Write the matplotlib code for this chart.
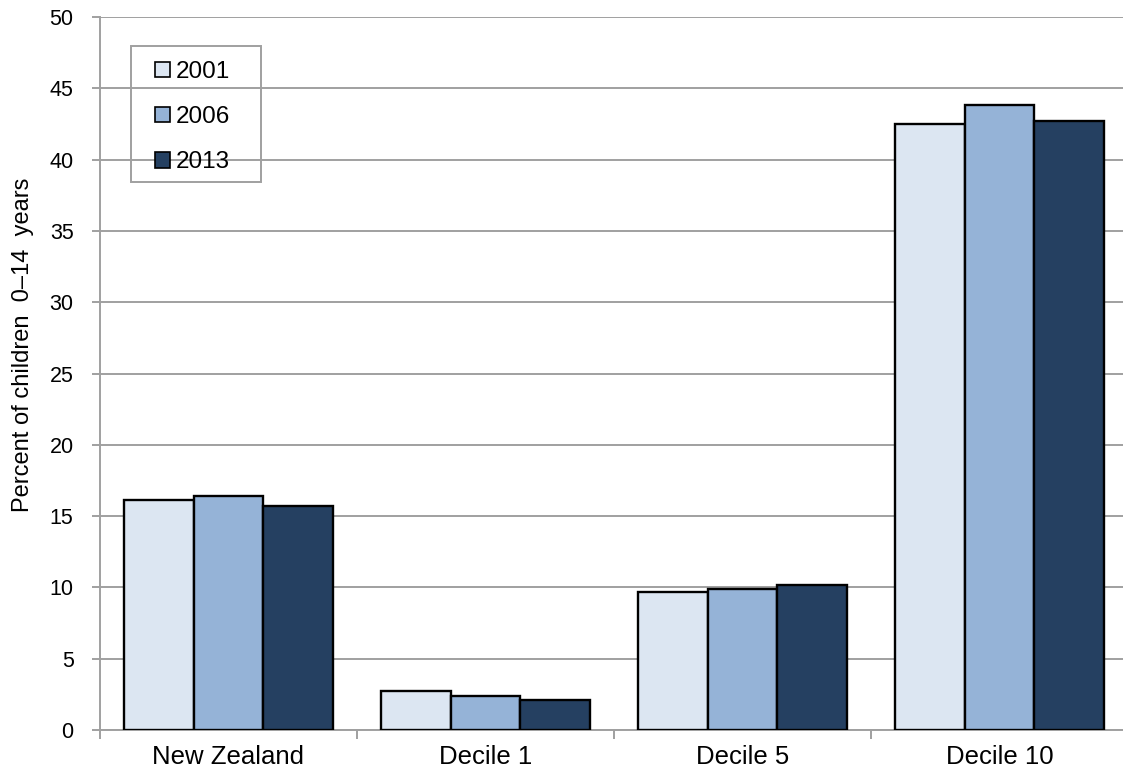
import numpy as np
import matplotlib
matplotlib.use("Agg")
import matplotlib.pyplot as plt
from matplotlib.ticker import FixedLocator
from matplotlib.patches import Rectangle

# data
categories = ["New Zealand", "Decile 1", "Decile 5", "Decile 10"]
years = ["2001", "2006", "2013"]
v2001 = [16.1, 2.7, 9.7, 42.5]
v2006 = [16.4, 2.4, 9.9, 43.8]
v2013 = [15.7, 2.1, 10.2, 42.7]
colors = ["#DCE6F2", "#95B3D7", "#254061"]

plt.rcParams['font.family'] = ['Liberation Sans', 'DejaVu Sans']

W, H = 1123, 776
fig = plt.figure(figsize=(W / 100, H / 100), dpi=100)
# plot area runs past the right edge of the picture, as in the reference
ax = fig.add_axes([100 / W, 1 - 730 / H, 1028 / W, 713 / H])

x = np.arange(len(categories))
w = 0.272
series = [v2001, v2006, v2013]
for i, (vals, c, lab) in enumerate(zip(series, colors, years)):
    ax.bar(x + (i - 1) * w, vals, width=w, color=c, edgecolor="black",
           linewidth=1.7, label=lab, zorder=3)

ax.set_xlim(-0.5, len(categories) - 0.5)
ax.set_ylim(0, 50)
ax.set_yticks(np.arange(0, 51, 5))
ax.yaxis.grid(True, color="#A0A0A0", linewidth=1.4, zorder=0)
ax.set_axisbelow(True)

ax.set_xticks(x)
ax.set_xticklabels(categories, fontsize=18.5)
ax.tick_params(axis="x", which="major", length=0, pad=11)
ax.xaxis.set_minor_locator(FixedLocator(np.arange(-0.5, len(categories), 1)))
ax.tick_params(axis="x", which="minor", length=6.5, color="#A0A0A0", width=1.4)
ax.tick_params(axis="y", labelsize=15.5, length=6, color="#A0A0A0", width=1.4, pad=13)

for s in ["top", "right"]:
    ax.spines[s].set_visible(False)
for s in ["left", "bottom"]:
    ax.spines[s].set_color("#A0A0A0")
    ax.spines[s].set_linewidth(1.4)

fig.text(23 / W, 1 - 345 / H, "Percent of children  0\u201314  years", fontsize=17,
         rotation=90, ha="center", va="center")

# legend: items without frame, frame drawn as its own box
leg = ax.legend(loc="upper left", bbox_to_anchor=(155 / W, 1 - 61 / H),
                bbox_transform=fig.transFigure, fontsize=17.5, frameon=False,
                handlelength=0.62, handleheight=0.62, handletextpad=0.25,
                labelspacing=0.95, borderpad=0, borderaxespad=0)
for h in leg.legend_handles:
    h.set_linewidth(1.2)
fig.patches.append(Rectangle((131 / W, 1 - 182 / H), 130 / W, 136 / H,
                             transform=fig.transFigure, fill=False,
                             edgecolor="#A0A0A0", linewidth=1.4, zorder=5))

fig.savefig("out.png", dpi=100)
